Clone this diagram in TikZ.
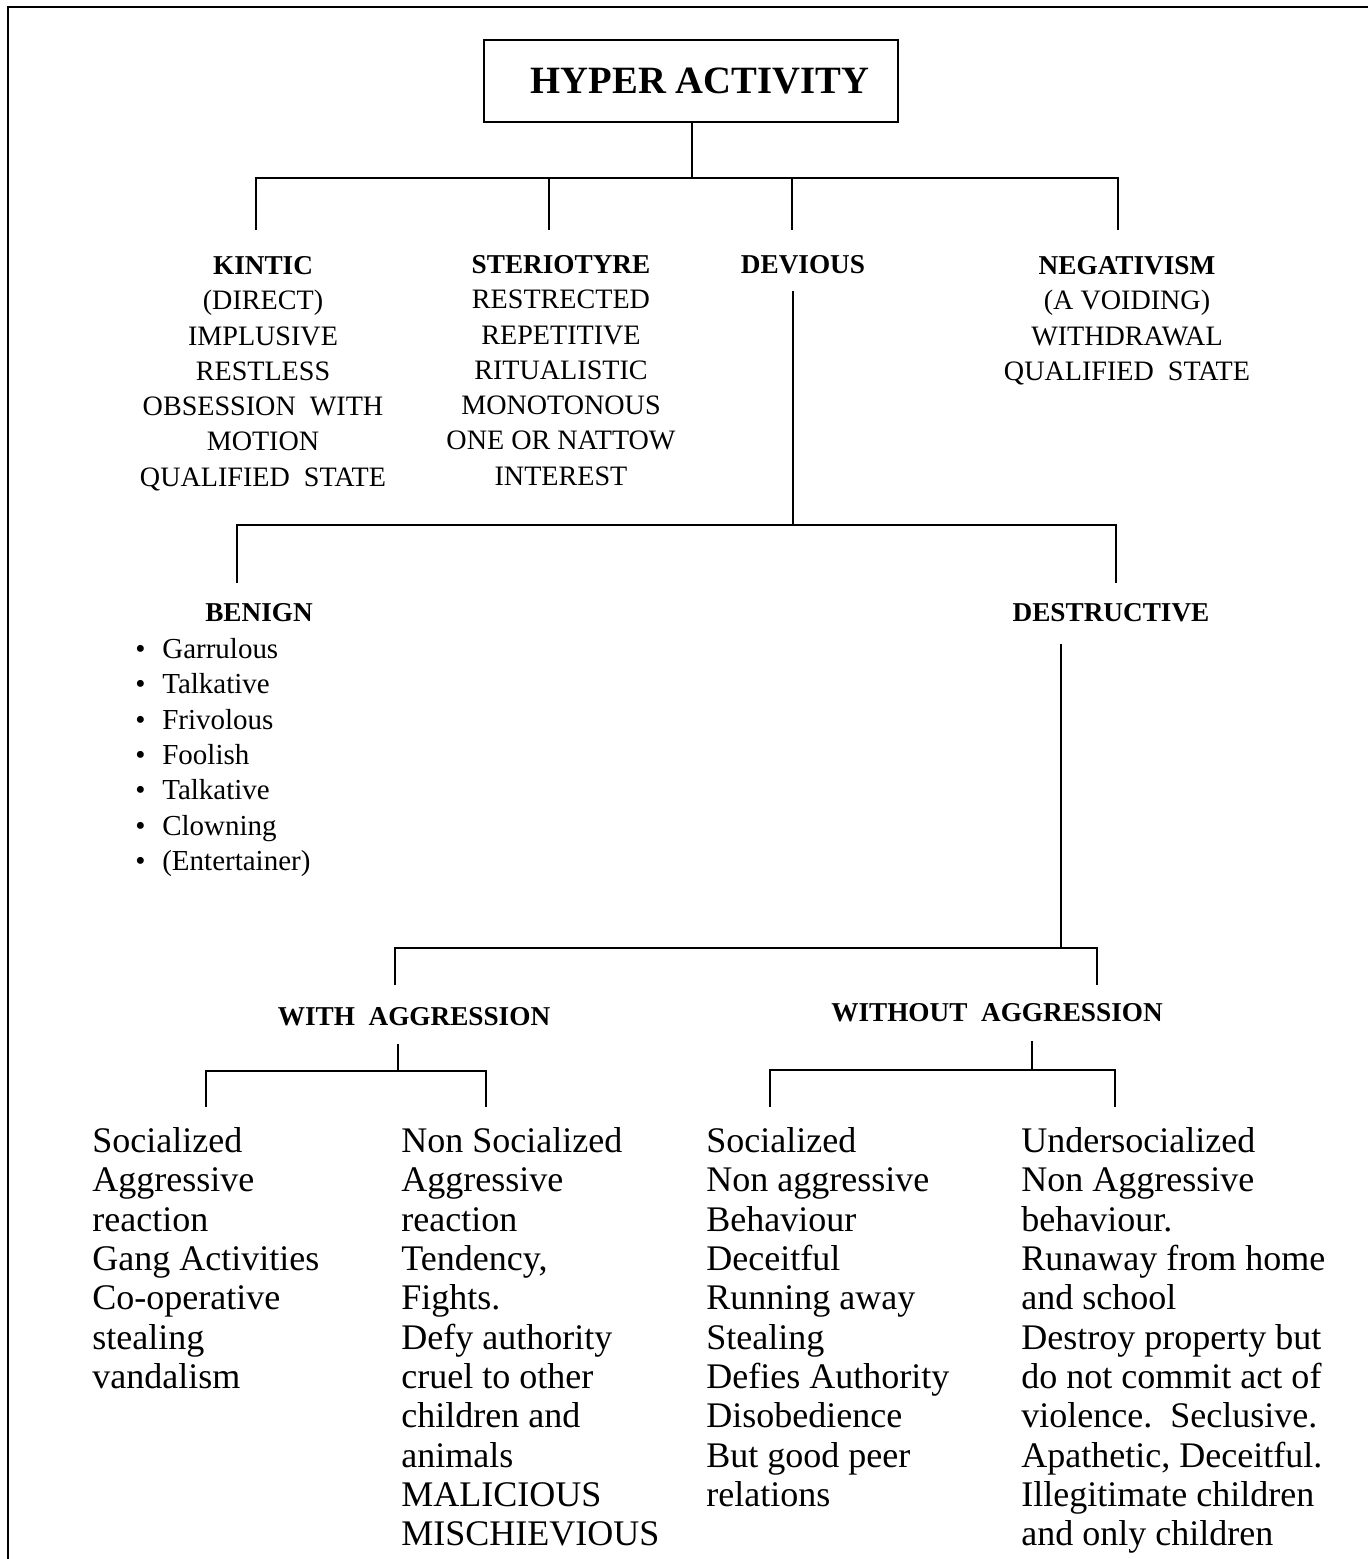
\documentclass[tikz,border=0pt]{standalone}
\usepackage{fontspec}
\setmainfont{Liberation Serif}
\usetikzlibrary{positioning}

\newcommand{\hd}[1]{{\fontsize{15.5}{20.1}\selectfont\bfseries #1}}
\newcommand{\bitem}[1]{\makebox[0.54cm][l]{\textbullet}#1}

\begin{document}
\begin{tikzpicture}[x=0.02cm,y=-0.02cm,
    line/.style={line width=1.4pt},
    head/.style={inner sep=0pt,anchor=north,align=center,font=\fontsize{16}{20.1}\selectfont},
    leaf/.style={inner sep=0pt,anchor=north west,align=left,font=\fontsize{20.5}{22.4}\selectfont}]
       \useasboundingbox (0,0) rectangle (1368,1559);

       % branch points
       \coordinate (b1) at (692,178);
       \coordinate (k0) at (256,178);
       \coordinate (s0) at (549,178);
       \coordinate (v0) at (792,178);
       \coordinate (n0) at (1118,178);

       \coordinate (d1) at (793,525);
       \coordinate (g0) at (237,525);
       \coordinate (r0) at (1116,525);

       \coordinate (e1) at (1061,948);
       \coordinate (w0) at (395,948);
       \coordinate (o0) at (1097,948);

       \coordinate (a1) at (398,1071);
       \coordinate (p0) at (206,1071);
       \coordinate (q0) at (486,1071);

       \coordinate (c1) at (1032,1070);
       \coordinate (u0) at (770,1070);
       \coordinate (t0) at (1115,1070);

       % frame
       \draw[line width=1.7pt] (8,1559) -- (8,7) -- (1368,7);

       \node[draw,line width=1.4pt,minimum width=8.28cm,minimum height=1.64cm,
             font=\fontsize{22}{26}\selectfont\bfseries] (top) at (691,81) {\hspace{0.36cm}HYPER ACTIVITY};

       \node[head] (kintic) at (263,256) {\hd{KINTIC}\\(DIRECT)\\IMPLUSIVE\\RESTLESS\\OBSESSION\ \ WITH\\MOTION\\QUALIFIED\ \ STATE};
       \node[head] (ster) at (561,255) {\hd{STERIOTYRE}\\RESTRECTED\\REPETITIVE\\RITUALISTIC\\MONOTONOUS\\ONE OR NATTOW\\INTEREST};
       \node[head] (devious) at (803,255) {\hd{DEVIOUS}};
       \node[head] (neg) at (1127,256) {\hd{NEGATIVISM}\\(A VOIDING)\\WITHDRAWAL\\QUALIFIED\ \ STATE};

       \node[head] (benign) at (259,603) {\hd{BENIGN}};
       \node[head,anchor=north west,align=left,font=\fontsize{16.5}{20.1}\selectfont] (blist) at (135,638)
            {\bitem{Garrulous}\\\bitem{Talkative}\\\bitem{Frivolous}\\\bitem{Foolish}\\\bitem{Talkative}\\\bitem{Clowning}\\\bitem{(Entertainer)}};
       \node[head] (destr) at (1111,603) {\hd{DESTRUCTIVE}};

       \node[head] (withagg) at (414,1007) {\hd{WITH\ \ AGGRESSION}};
       \node[head] (without) at (997,1003) {\hd{WITHOUT\ \ AGGRESSION}};

       \node[leaf] (soc) at (92,1127) {Socialized\\Aggressive\\reaction\\Gang Activities\\Co-operative\\stealing\\vandalism};
       \node[leaf] (nonsoc) at (401,1127) {Non Socialized\\Aggressive\\reaction\\Tendency,\\Fights.\\Defy authority\\cruel to other\\children and\\animals\\MALICIOUS\\MISCHIEVIOUS};
       \node[leaf] (socna) at (706,1127) {Socialized\\Non aggressive\\Behaviour\\Deceitful\\Running away\\Stealing\\Defies Authority\\Disobedience\\But good peer\\relations};
       \node[leaf] (under) at (1021,1127) {Undersocialized\\Non Aggressive\\behaviour.\\Runaway from home\\and school\\Destroy property but\\do not commit act of\\violence.\ \ Seclusive.\\Apathetic, Deceitful.\\Illegitimate children\\and only children};

       % first level
       \draw[line] (top.south -| b1) -- (b1);
       \draw[line,shorten <=0.52cm,shorten >=0.52cm] (kintic.north -| k0) -- (k0) -- (n0) -- (neg.north -| n0);
       \draw[line,shorten >=0.5cm] (s0) -- (ster.north -| s0);
       \draw[line,shorten >=0.5cm] (v0) -- (devious.north -| v0);

       % devious
       \draw[line,shorten <=0.34cm] (devious.south -| d1) -- (d1);
       \draw[line,shorten <=0.4cm,shorten >=0.4cm] (benign.north -| g0) -- (g0) -- (r0) -- (destr.north -| r0);

       % destructive
       \draw[line,shorten <=0.44cm] (destr.south -| e1) -- (e1);
       \draw[line,shorten <=0.44cm,shorten >=0.36cm] (withagg.north -| w0) -- (w0) -- (o0) -- (without.north -| o0);

       % with / without aggression
       \draw[line,shorten <=0.36cm] (withagg.south -| a1) -- (a1);
       \draw[line,shorten <=0.4cm,shorten >=0.4cm] (soc.north -| p0) -- (p0) -- (q0) -- (nonsoc.north -| q0);
       \draw[line,shorten <=0.38cm] (without.south -| c1) -- (c1);
       \draw[line,shorten <=0.4cm,shorten >=0.4cm] (socna.north -| u0) -- (u0) -- (t0) -- (under.north -| t0);
\end{tikzpicture}
\end{document}
